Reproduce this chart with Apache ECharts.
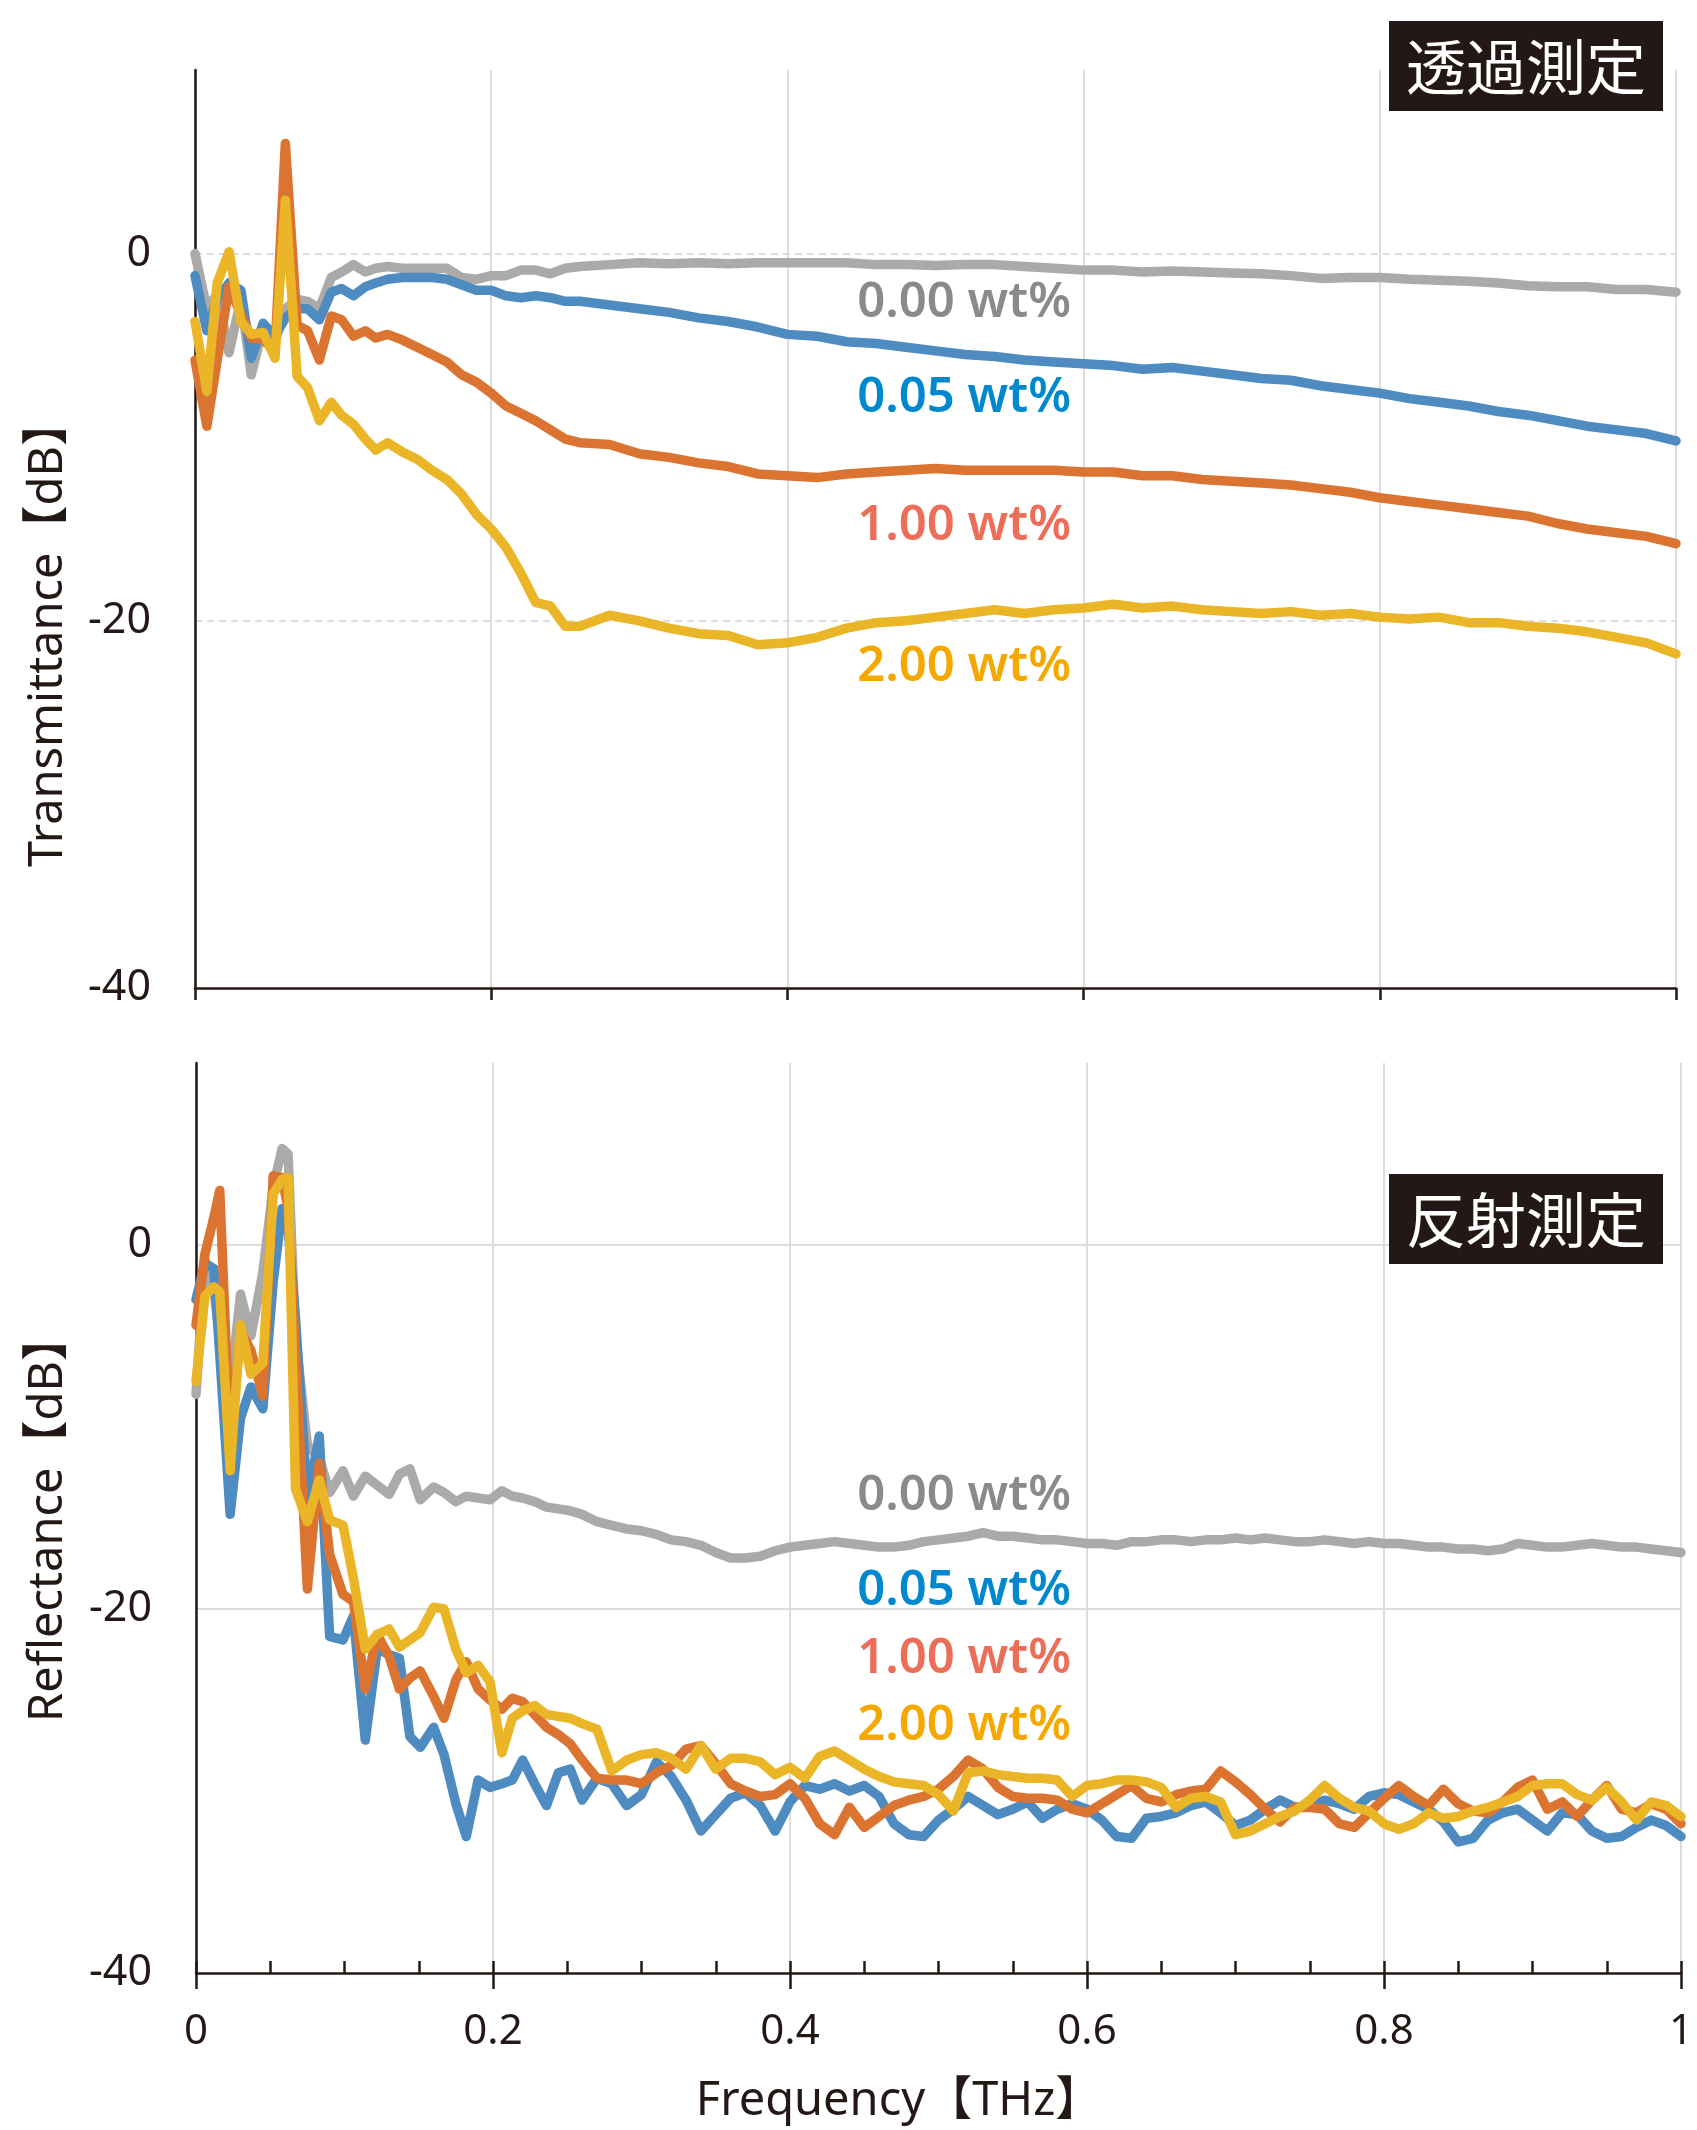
<!DOCTYPE html>
<html>
<head>
<meta charset="utf-8">
<script src="https://cdn.jsdelivr.net/npm/echarts/dist/echarts.min.js"></script>
<style>
html, body { margin: 0; padding: 0; background: #fff; }
#chart { width: 1697px; height: 2130px; }
</style>
</head>
<body>
<div id="chart"></div>
<script>
// ---- transmittance panel (THz / dB) ----
const freqT = [0, 0.008, 0.015, 0.023, 0.031, 0.038, 0.046, 0.054, 0.061, 0.069,
    0.076, 0.084, 0.092, 0.099, 0.107, 0.115, 0.122, 0.13, 0.14, 0.15,
    0.16, 0.17, 0.18, 0.19, 0.2, 0.21, 0.22, 0.23, 0.24, 0.25,
    0.26, 0.28, 0.3, 0.32, 0.34, 0.36, 0.38, 0.4, 0.42, 0.44,
    0.46, 0.48, 0.5, 0.52, 0.54, 0.56, 0.58, 0.6, 0.62, 0.64,
    0.66, 0.68, 0.7, 0.72, 0.74, 0.76, 0.78, 0.8, 0.82, 0.84,
    0.86, 0.88, 0.9, 0.92, 0.94, 0.96, 0.98, 1.0];

const trans000 = [0, -3.0, -2.2, -5.4, -2.5, -6.6, -4.0, -4.8, -3.0, -2.5,
    -2.6, -3.0, -1.3, -1.0, -0.6, -1.0, -0.8, -0.7, -0.8, -0.8,
    -0.8, -0.8, -1.3, -1.4, -1.2, -1.2, -0.9, -0.9, -1.1, -0.8,
    -0.7, -0.6, -0.5, -0.55, -0.5, -0.55, -0.5, -0.5, -0.5, -0.5,
    -0.6, -0.6, -0.65, -0.6, -0.6, -0.7, -0.8, -0.9, -0.9, -1.0,
    -0.95, -1.0, -1.05, -1.1, -1.2, -1.35, -1.3, -1.3, -1.4, -1.45,
    -1.5, -1.6, -1.75, -1.8, -1.8, -1.95, -1.95, -2.1];
const trans005 = [-1.2, -4.2, -2.5, -1.6, -2.0, -5.7, -3.8, -4.5, -3.5, -3.0,
    -3.0, -3.6, -2.1, -1.9, -2.3, -1.8, -1.6, -1.4, -1.3, -1.3,
    -1.3, -1.4, -1.7, -2.0, -2.0, -2.3, -2.4, -2.3, -2.4, -2.6,
    -2.6, -2.8, -3.0, -3.2, -3.5, -3.7, -4.0, -4.4, -4.5, -4.8,
    -4.9, -5.1, -5.3, -5.5, -5.6, -5.8, -5.9, -6.0, -6.1, -6.3,
    -6.2, -6.4, -6.6, -6.8, -6.9, -7.2, -7.4, -7.6, -7.9, -8.1,
    -8.3, -8.6, -8.8, -9.1, -9.4, -9.6, -9.8, -10.2];
const trans100 = [-5.8, -9.4, -5.8, -1.8, -3.3, -4.6, -4.7, -5.3, 6.0, -3.9,
    -4.2, -5.8, -3.4, -3.6, -4.5, -4.2, -4.6, -4.4, -4.7, -5.1,
    -5.5, -5.9, -6.6, -7.0, -7.6, -8.3, -8.7, -9.1, -9.6, -10.1,
    -10.3, -10.4, -10.9, -11.1, -11.4, -11.6, -12.0, -12.1, -12.2, -12.0,
    -11.9, -11.8, -11.7, -11.8, -11.8, -11.8, -11.8, -11.9, -11.9, -12.1,
    -12.1, -12.3, -12.4, -12.5, -12.6, -12.8, -13.0, -13.3, -13.5, -13.7,
    -13.9, -14.1, -14.3, -14.7, -15.0, -15.2, -15.4, -15.8];
const trans200 = [-3.7, -7.5, -1.6, 0.1, -3.7, -4.4, -4.3, -5.7, 2.9, -6.7,
    -7.3, -9.1, -8.1, -8.8, -9.3, -10.1, -10.7, -10.3, -10.8, -11.2,
    -11.8, -12.3, -13.1, -14.2, -15.0, -16.0, -17.4, -19.0, -19.2, -20.3,
    -20.3, -19.7, -20.0, -20.4, -20.7, -20.8, -21.3, -21.2, -20.9, -20.4,
    -20.1, -20.0, -19.8, -19.6, -19.4, -19.6, -19.4, -19.3, -19.1, -19.3,
    -19.2, -19.4, -19.5, -19.6, -19.5, -19.7, -19.6, -19.8, -19.9, -19.8,
    -20.1, -20.1, -20.3, -20.4, -20.6, -20.9, -21.2, -21.8];

// ---- reflectance panel (THz / dB) ----
const freqR = [0, 0.006, 0.012, 0.016, 0.023, 0.03, 0.037, 0.045, 0.052, 0.058,
    0.062, 0.067, 0.075, 0.083, 0.09, 0.099, 0.106, 0.114, 0.122, 0.13,
    0.137, 0.144, 0.151, 0.16, 0.167, 0.175, 0.182, 0.19, 0.198, 0.206,
    0.213, 0.22, 0.228, 0.236, 0.244, 0.252, 0.26, 0.27, 0.28, 0.29,
    0.3, 0.31, 0.32, 0.33, 0.34, 0.35, 0.36, 0.37, 0.38, 0.39,
    0.4, 0.41, 0.42, 0.43, 0.44, 0.45, 0.46, 0.47, 0.48, 0.49,
    0.5, 0.51, 0.52, 0.53, 0.54, 0.55, 0.56, 0.57, 0.58, 0.59,
    0.6, 0.61, 0.62, 0.63, 0.64, 0.65, 0.66, 0.67, 0.68, 0.69,
    0.7, 0.71, 0.72, 0.73, 0.74, 0.75, 0.76, 0.77, 0.78, 0.79,
    0.8, 0.81, 0.82, 0.83, 0.84, 0.85, 0.86, 0.87, 0.88, 0.89,
    0.9, 0.91, 0.92, 0.93, 0.94, 0.95, 0.96, 0.97, 0.98, 0.99, 1.0];

const refl000 = [-8.2, -0.8, -2.5, -5.0, -8.0, -2.7, -5.0, -1.5, 3.2, 5.3,
    5.0, -5.0, -11.0, -11.7, -13.6, -12.4, -13.8, -12.7, -13.2, -13.7,
    -12.6, -12.3, -14.0, -13.3, -13.6, -14.1, -13.8, -13.9, -14.0, -13.5,
    -13.8, -13.9, -14.1, -14.4, -14.5, -14.6, -14.8, -15.2, -15.4, -15.6,
    -15.7, -15.9, -16.2, -16.3, -16.5, -16.9, -17.2, -17.2, -17.1, -16.8,
    -16.6, -16.5, -16.4, -16.3, -16.4, -16.5, -16.6, -16.6, -16.5, -16.3,
    -16.2, -16.1, -16.0, -15.8, -16.0, -16.0, -16.1, -16.2, -16.2, -16.3,
    -16.4, -16.4, -16.5, -16.3, -16.3, -16.2, -16.2, -16.3, -16.2, -16.2,
    -16.1, -16.2, -16.1, -16.2, -16.3, -16.3, -16.2, -16.3, -16.4, -16.3,
    -16.4, -16.4, -16.5, -16.6, -16.6, -16.7, -16.7, -16.8, -16.7, -16.4,
    -16.5, -16.6, -16.6, -16.5, -16.4, -16.5, -16.6, -16.6, -16.7, -16.8, -16.9];
const refl005 = [-3.0, -1.0, -1.3, -6.0, -14.8, -9.5, -7.8, -9.0, -2.0, 2.0,
    1.0, -4.0, -14.0, -10.5, -21.5, -21.7, -20.4, -27.2, -22.2, -22.5,
    -22.7, -27.0, -27.6, -26.5, -28.0, -30.7, -32.5, -29.4, -29.8, -29.6,
    -29.4, -28.3, -29.6, -30.8, -29.0, -28.8, -30.5, -29.3, -29.6, -30.8,
    -30.2, -28.4, -29.2, -30.5, -32.2, -31.3, -30.4, -30.1, -30.8, -32.2,
    -30.6, -29.7, -29.9, -29.6, -30.0, -29.7, -30.3, -31.8, -32.4, -32.5,
    -31.6, -31.0, -30.3, -30.8, -31.3, -31.0, -30.6, -31.5, -31.0, -30.7,
    -31.0, -31.6, -32.5, -32.6, -31.5, -31.4, -31.2, -30.8, -30.6, -31.2,
    -31.9, -31.6, -31.0, -30.5, -30.9, -30.8, -30.5, -30.7, -31.0, -30.3,
    -30.1, -30.2, -30.6, -31.0, -31.7, -32.8, -32.6, -31.6, -31.2, -31.0,
    -31.6, -32.2, -31.2, -31.3, -32.2, -32.6, -32.5, -32.0, -31.6, -31.9, -32.5];
const refl100 = [-4.4, -0.5, 1.5, 3.0, -11.0, -4.7, -5.8, -8.3, 3.8, 3.7,
    2.0, -6.0, -18.9, -12.0, -17.0, -19.2, -19.6, -24.4, -21.4, -22.6,
    -24.4, -23.8, -23.4, -24.8, -26.0, -23.9, -22.9, -24.4, -25.0, -25.5,
    -24.9, -25.1, -25.8, -26.5, -26.9, -27.4, -28.3, -29.3, -29.4, -29.4,
    -29.6, -29.0, -28.6, -27.7, -27.5, -28.5, -29.6, -30.0, -30.3, -30.2,
    -29.6, -30.4, -31.8, -32.4, -30.9, -32.0, -31.4, -30.8, -30.5, -30.3,
    -29.9, -29.2, -28.3, -28.8, -29.8, -30.3, -30.4, -30.4, -30.5, -31.0,
    -31.2, -30.7, -30.2, -29.7, -30.4, -30.6, -30.2, -30.0, -29.9, -28.9,
    -29.5, -30.2, -31.0, -31.7, -30.9, -30.9, -31.0, -31.8, -32.0, -31.2,
    -30.4, -29.7, -30.3, -30.8, -29.9, -30.7, -31.1, -31.2, -30.6, -29.8,
    -29.4, -31.0, -30.6, -31.4, -30.5, -29.7, -31.0, -31.2, -30.7, -31.0, -31.8];
const refl200 = [-7.5, -2.8, -2.3, -2.6, -12.4, -4.4, -7.1, -6.5, 2.8, 3.6,
    3.7, -13.4, -15.2, -12.9, -15.1, -15.4, -18.3, -22.2, -21.4, -21.1,
    -22.1, -21.7, -21.3, -19.9, -20.0, -22.2, -23.5, -23.1, -24.0, -27.9,
    -26.0, -25.6, -25.3, -25.8, -25.9, -26.0, -26.3, -26.6, -28.9, -28.3,
    -28.0, -27.9, -28.2, -28.8, -27.5, -28.8, -28.2, -28.2, -28.4, -29.1,
    -28.7, -29.3, -28.1, -27.8, -28.3, -28.8, -29.2, -29.5, -29.6, -29.7,
    -30.2, -31.1, -29.0, -28.9, -29.1, -29.2, -29.3, -29.3, -29.4, -30.3,
    -29.7, -29.6, -29.4, -29.4, -29.5, -29.8, -30.9, -30.4, -30.3, -30.6,
    -32.4, -32.2, -31.8, -31.4, -31.1, -30.5, -29.7, -30.4, -30.9, -31.1,
    -31.8, -32.1, -31.8, -31.2, -31.5, -31.4, -31.1, -30.9, -30.6, -30.3,
    -29.7, -29.6, -29.6, -30.2, -30.5, -29.8, -30.6, -31.6, -30.6, -30.8, -31.4];

const seriesNames = ['0.00 wt%', '0.05 wt%', '1.00 wt%', '2.00 wt%'];
const lineColors = ['#aca9a9', '#4e8bc1', '#dc7431', '#eab526'];
const labelColors = ['#8a8a8a', '#0088cf', '#ec6d58', '#f5a900'];

const myChart = echarts.init(document.getElementById('chart'));

const ink = '#231815';
const latin = '"Noto Sans", "Noto Sans CJK JP", sans-serif';

function makeLine(name, xs, ys, color, idx) {
    return {
        name: name,
        type: 'line',
        xAxisIndex: idx,
        yAxisIndex: idx,
        data: xs.map(function (x, i) { return [x, ys[i]]; }),
        symbol: 'none',
        showSymbol: false,
        silent: true,
        lineStyle: { width: 9.5, color: color, join: 'round', cap: 'round' },
        itemStyle: { color: color }
    };
}

const transData = [trans000, trans005, trans100, trans200];
const reflData = [refl000, refl005, refl100, refl200];
const series = [];
for (var k = 0; k < 4; k++) {
    series.push(makeLine(seriesNames[k], freqT, transData[k], lineColors[k], 0));
}
for (var k = 0; k < 4; k++) {
    series.push(makeLine(seriesNames[k], freqR, reflData[k], lineColors[k], 1));
}

// text labels next to the curves
const topLabelY = [303, 398, 526, 667];
const botLabelY = [1496, 1591, 1659, 1726];
const graphics = [];
for (var k = 0; k < 4; k++) {
    [topLabelY[k], botLabelY[k]].forEach(function (y) {
        graphics.push({
            type: 'text', x: 1071, y: y, silent: true, z: 100,
            style: {
                text: seriesNames[k], fill: labelColors[k],
                font: '600 49px ' + latin, align: 'right', verticalAlign: 'middle'
            }
        });
    });
}
// black title boxes (drawn over the grid lines)
[['透過測定', 21], ['反射測定', 1174]].forEach(function (t) {
    graphics.push({ type: 'rect', silent: true, z: 100, shape: { x: 1389, y: t[1], width: 274, height: 90 }, style: { fill: ink } });
    graphics.push({
        type: 'text', x: 1526, y: t[1] + 46, silent: true, z: 101,
        style: { text: t[0], fill: '#fff', font: '60px "Noto Sans CJK JP"', align: 'center', verticalAlign: 'middle' }
    });
});
// axis titles
graphics.push({ type: 'text', x: 49, y: 633, rotation: Math.PI / 2, silent: true,
    style: { text: 'Transmittance【dB】', fill: ink, font: '47px ' + latin, align: 'center', verticalAlign: 'middle' } });
graphics.push({ type: 'text', x: 49, y: 1518, rotation: Math.PI / 2, silent: true,
    style: { text: 'Reflectance【dB】', fill: ink, font: '47px ' + latin, align: 'center', verticalAlign: 'middle' } });
graphics.push({ type: 'text', x: 899, y: 2102, silent: true,
    style: { text: 'Frequency【THz】', fill: ink, font: '47px ' + latin, align: 'center', verticalAlign: 'middle' } });

const axisLine = { show: true, onZero: false, lineStyle: { color: ink, width: 2.5 } };
const tickStyle = { color: ink, width: 2.5 };
const vGrid = { show: true, lineStyle: { color: '#dcdcdc', width: 2 } };

const option = {
    backgroundColor: '#fff',
    animation: false,
    grid: [
        { left: 195, top: 70, width: 1481, height: 918 },
        { left: 196, top: 1063, width: 1485, height: 910 }
    ],
    xAxis: [
        { gridIndex: 0, type: 'value', min: 0, max: 1, interval: 0.2,
          axisLine: axisLine, axisTick: { show: true, length: 12, lineStyle: tickStyle },
          axisLabel: { show: false }, splitLine: vGrid },
        { gridIndex: 1, type: 'value', position: 'bottom', min: 0, max: 1, interval: 0.2,
          axisLine: axisLine, axisTick: { show: true, length: 16, lineStyle: tickStyle },
          axisLabel: { show: true, fontSize: 42, fontFamily: latin, color: ink, margin: 38 },
          splitLine: vGrid },
        // minor ticks pointing up into the plot
        { gridIndex: 1, type: 'value', position: 'bottom', min: 0, max: 1, interval: 0.05,
          axisLine: { show: false, onZero: false }, axisTick: { show: true, inside: true, length: 12, lineStyle: tickStyle },
          axisLabel: { show: false }, splitLine: { show: false } }
    ],
    yAxis: [
        { gridIndex: 0, type: 'value', min: -40, max: 10, interval: 20,
          axisLine: axisLine, axisTick: { show: false },
          axisLabel: { fontSize: 43, fontFamily: latin, color: ink, margin: 44, showMaxLabel: false },
          splitLine: { show: true, showMinLine: false, showMaxLine: false,
                       lineStyle: { color: '#d2d2d2', width: 1.5, type: [7, 5] } } },
        { gridIndex: 1, type: 'value', min: -40, max: 10, interval: 20,
          axisLine: axisLine, axisTick: { show: false },
          axisLabel: { fontSize: 43, fontFamily: latin, color: ink, margin: 44, showMaxLabel: false },
          splitLine: { show: true, showMinLine: false, showMaxLine: false,
                       lineStyle: { color: '#dcdcdc', width: 2 } } }
    ],
    graphic: graphics,
    series: series
};
myChart.setOption(option);
</script>
</body>
</html>
